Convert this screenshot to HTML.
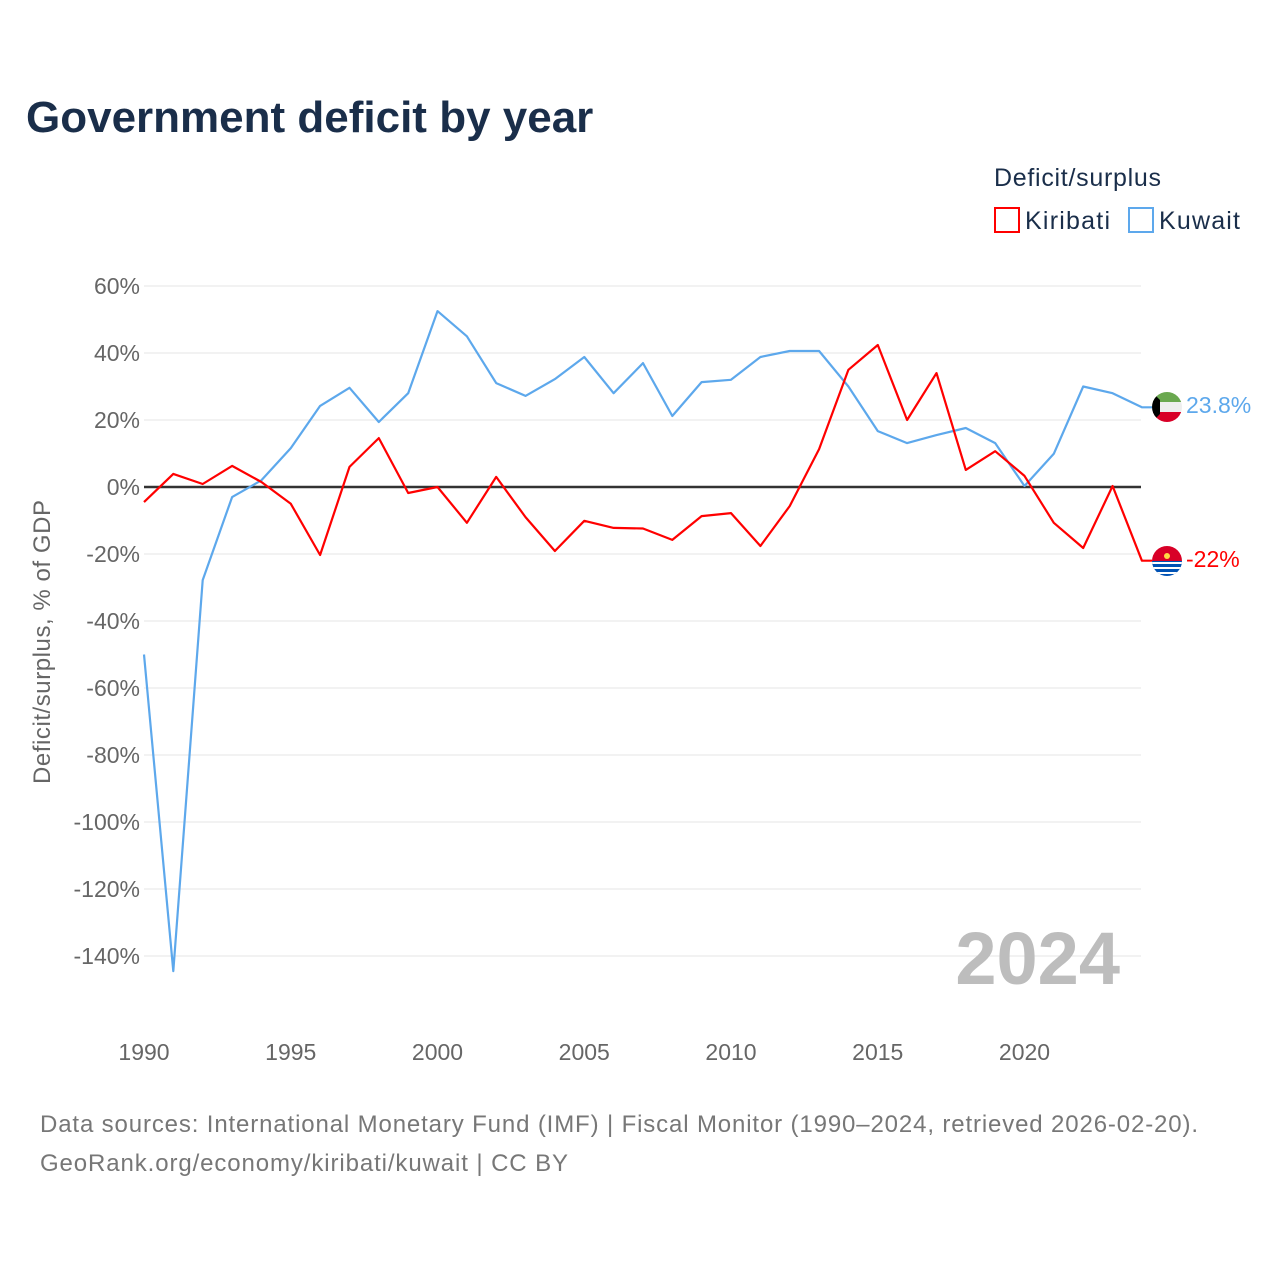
<!DOCTYPE html>
<html><head><meta charset="utf-8"><style>
body{margin:0;background:#fff;font-family:"Liberation Sans",sans-serif;}
#wrap{position:relative;width:1280px;height:1280px;overflow:hidden}
</style></head><body>
<div id="wrap">
<svg id="chart" width="1280" height="1280">
<text x="26" y="132" font-size="44" font-weight="bold" fill="#1a2e4a">Government deficit by year</text>
<text x="994" y="186" font-size="25" fill="#1a2e4a" textLength="167">Deficit/surplus</text>
<g><rect x="995" y="208" width="24" height="24" fill="none" stroke="#f00" stroke-width="2"/><text x="1025" y="229" font-size="25" fill="#1a2e4a" textLength="85">Kiribati</text></g>
<g><rect x="1129" y="208" width="24" height="24" fill="none" stroke="#5da8ec" stroke-width="2"/><text x="1159" y="229" font-size="25" fill="#1a2e4a" textLength="81">Kuwait</text></g>
<text transform="translate(50,642) rotate(-90)" text-anchor="middle" font-size="24" fill="#666" textLength="284">Deficit/surplus, % of GDP</text>
<g id="grid"></g><g id="lines"></g>
<text x="1120" y="984" text-anchor="end" font-size="74" font-weight="bold" fill="#bdbdbd">2024</text>
<text x="40" y="1132" font-size="24" fill="#777" textLength="1158">Data sources: International Monetary Fund (IMF) | Fiscal Monitor (1990–2024, retrieved 2026-02-20).</text>
<text x="40" y="1171" font-size="24" fill="#777" textLength="528">GeoRank.org/economy/kiribati/kuwait | CC BY</text>
<defs><clipPath id="c1"><circle cx="1167" cy="407" r="15"/></clipPath><clipPath id="c2"><circle cx="1167" cy="561" r="15"/></clipPath></defs>
<g clip-path="url(#c1)"><rect x="1152" y="392" width="30" height="10" fill="#6aa84f"/><rect x="1152" y="402" width="30" height="10" fill="#eee"/><rect x="1152" y="412" width="30" height="10" fill="#d80027"/><polygon points="1152,392 1160,400 1160,414 1152,422" fill="#000"/></g>
<g clip-path="url(#c2)"><rect x="1152" y="546" width="30" height="15" fill="#d80027"/><rect x="1152" y="561" width="30" height="15" fill="#0052b4"/><path d="M1152 563h30M1152 568h30M1152 573h30" stroke="#fff" stroke-width="2"/><circle cx="1167" cy="556" r="3" fill="#ffda44"/></g>
<text x="1186" y="413" font-size="23" fill="#5da8ec">23.8%</text>
<text x="1186" y="567" font-size="23" fill="#f00">-22%</text>
</svg>
</div>
<script>
const years=[1990,1991,1992,1993,1994,1995,1996,1997,1998,1999,2000,2001,2002,2003,2004,2005,2006,2007,2008,2009,2010,2011,2012,2013,2014,2015,2016,2017,2018,2019,2020,2021,2022,2023,2024];
const kuwait=[-50,-144.5,-27.8,-3,2,11.6,24.2,29.6,19.4,28,52.5,45,31,27.2,32.2,38.8,28,37,21.2,31.3,32,38.8,40.6,40.6,30,16.7,13.1,15.5,17.6,13.1,0.3,9.9,30,28,23.8];
const kiribati=[-4.5,3.9,0.9,6.3,1.5,-5,-20.3,6,14.6,-1.8,0,-10.7,3,-9,-19.1,-10.1,-12.2,-12.4,-15.8,-8.7,-7.8,-17.6,-5.7,11.3,35,42.4,20,34,5.1,10.7,3.3,-10.7,-18.2,0.3,-22];
const yTicks=[60,40,20,0,-20,-40,-60,-80,-100,-120,-140];
const xTicks=[1990,1995,2000,2005,2010,2015,2020];
const NS="http://www.w3.org/2000/svg";
const x=v=>144+(v-1990)*29.35;
const y=v=>487-v*3.35;
const grid=document.getElementById('grid'),lines=document.getElementById('lines');
function mk(tag,at,parent){const e=document.createElementNS(NS,tag);for(const k in at)e.setAttribute(k,at[k]);parent.appendChild(e);return e;}
yTicks.forEach(t=>{
 const l=mk('line',{x1:144,x2:1141,y1:y(t),y2:y(t),stroke:t===0?'#333':'#e6e6e6','stroke-width':t===0?2.5:1},grid);
 
 
 const tx=mk('text',{x:140,y:y(t)+8,'text-anchor':'end','font-size':23,fill:'#666'},grid);
 tx.textContent=t+'%';
 
 
});
xTicks.forEach(t=>{
 const tx=mk('text',{x:x(t),y:1060,'text-anchor':'middle','font-size':23,fill:'#666'},grid);
 tx.textContent=t;
 
 
});
function series(vals,color,name){
 let d=vals.map((v,i)=>(i?'L':'M')+x(years[i]).toFixed(1)+' '+y(v).toFixed(1)).join(' ');
 d+=' L1152 '+y(vals[vals.length-1]).toFixed(1);
 const p=mk('path',{d:d,fill:'none',stroke:color,'stroke-width':2.2,'stroke-linejoin':'round'},lines);
 
 
}
series(kuwait,'#5da8ec','kuwait-line');
series(kiribati,'#ff0000','kiribati-line');
</script>
</body></html>
